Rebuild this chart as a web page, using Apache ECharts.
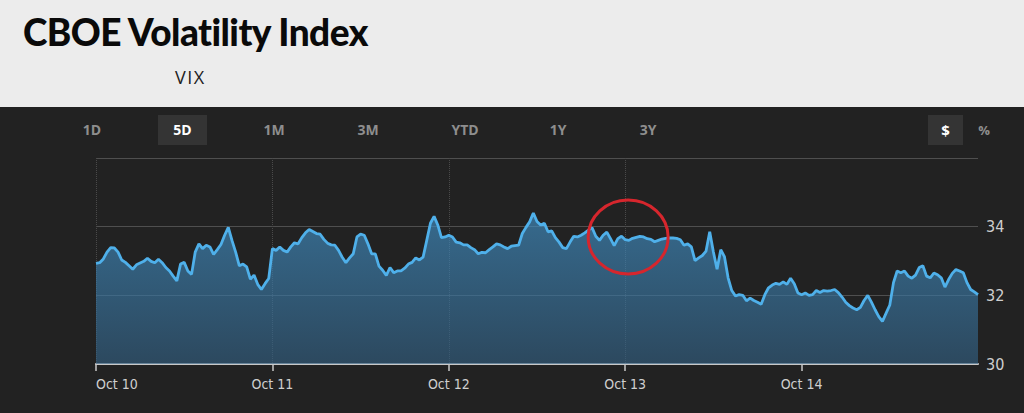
<!DOCTYPE html>
<html>
<head>
<meta charset="utf-8">
<script src="https://cdn.jsdelivr.net/npm/echarts@6/dist/echarts.min.js"></script>
<style>
  html, body { margin:0; padding:0; }
  body { width:1024px; height:413px; background:#222222; overflow:hidden; position:relative; font-family:"Open Sans", sans-serif; }
  #hdr { position:absolute; left:0; top:0; width:1024px; height:107px; background:#ececec; }
  #title { position:absolute; left:23px; top:9px; font-family:Lato, sans-serif; font-weight:900; font-size:37px; letter-spacing:-0.55px; color:#0a0a0a; white-space:nowrap; }
  #sub { position:absolute; left:175px; top:65px; font-family:"Open Sans", sans-serif; font-size:18px; letter-spacing:1.5px; color:#222; }
  .tab { position:absolute; top:115px; height:30px; line-height:30px; text-align:center; font-family:"Open Sans", sans-serif; font-weight:700; font-size:14px; color:#8e8e8e; }
  .tab.on { background:#343434; color:#ffffff; }
  #chart { position:absolute; left:0; top:107px; width:1024px; height:306px; }
</style>
</head>
<body>
<div id="hdr">
  <div id="title">CBOE Volatility Index</div>
  <div id="sub">VIX</div>
</div>
<div class="tab" style="left:72px;width:40px;">1D</div>
<div class="tab on" style="left:158px;width:49px;">5D</div>
<div class="tab" style="left:254px;width:40px;">1M</div>
<div class="tab" style="left:348px;width:40px;">3M</div>
<div class="tab" style="left:445px;width:40px;">YTD</div>
<div class="tab" style="left:538px;width:40px;">1Y</div>
<div class="tab" style="left:628px;width:40px;">3Y</div>
<div class="tab on" style="left:928px;width:35px;font-size:15px;">$</div>
<div class="tab" style="left:972px;width:24px;font-size:13px;">%</div>
<div id="chart"></div>
<script>
// ---- data, one value every 30 minutes ----
const dayLabels = ['Oct 10', 'Oct 11', 'Oct 12', 'Oct 13', 'Oct 14'];
const yTickValues = [30, 32, 34];
const stepHours = 0.5;

const oct10 = [32.93,32.95,33.06,33.26,33.39,33.38,33.26,33.03,32.96,32.86,
               32.76,32.89,32.94,32.99,33.08,32.99,32.95,33.05,32.95,32.81,
               32.71,32.56,32.42,32.91,32.96,32.71,32.61,33.26,33.50,33.36,
               33.46,33.41,33.19,33.33,33.48,33.75,33.98,33.60,33.26,32.86,
               32.91,32.83,32.47,32.59,32.32,32.17,32.34,32.49];
const oct11 = [33.36,33.31,33.41,33.31,33.26,33.41,33.53,33.50,33.68,33.82,
               33.92,33.86,33.80,33.78,33.63,33.52,33.47,33.46,33.31,33.11,
               32.95,33.09,33.21,33.70,33.78,33.75,33.50,33.21,33.21,32.85,
               32.73,32.58,32.81,32.66,32.71,32.71,32.79,32.91,32.96,33.09,
               33.03,33.11,33.60,34.10,34.30,34.05,33.68,33.70];
const oct12 = [33.75,33.70,33.55,33.53,33.47,33.47,33.39,33.33,33.21,33.25,
               33.24,33.33,33.41,33.50,33.47,33.41,33.36,33.43,33.45,33.46,
               33.80,33.98,34.14,34.40,34.15,34.05,34.10,33.85,33.88,33.68,
               33.55,33.39,33.36,33.55,33.72,33.70,33.75,33.82,33.90,33.97,
               33.72,33.60,33.75,33.84,33.65,33.45,33.65,33.72];
const oct13 = [33.62,33.60,33.66,33.69,33.72,33.70,33.65,33.63,33.56,33.60,
               33.64,33.66,33.67,33.67,33.66,33.62,33.46,33.50,33.41,33.01,
               33.09,33.16,33.29,33.85,33.26,32.76,33.33,33.13,32.51,32.14,
               31.98,32.02,32.00,31.84,31.92,31.85,31.80,31.74,32.02,32.22,
               32.30,32.35,32.32,32.39,32.32,32.50,32.34,32.07];
const oct14 = [32.02,32.07,32.00,32.02,32.14,32.08,32.14,32.12,32.14,32.17,
               32.08,31.95,31.80,31.70,31.63,31.58,31.65,31.85,32.00,31.80,
               31.58,31.38,31.24,31.48,31.72,32.37,32.71,32.66,32.71,32.56,
               32.50,32.59,32.81,32.86,32.56,32.51,32.65,32.60,32.51,32.24,
               32.46,32.64,32.75,32.71,32.66,32.37,32.17,32.10];
const lastValue = [32.02];

// annotation circle anchor (hours since Oct 10 00:00, VIX value)
const circleAnchor = [72.4, 33.70];

// ---- build ----
const values = [].concat(oct10, oct11, oct12, oct13, oct14, lastValue);
const seriesData = values.map((v, i) => [i * stepHours, v]);
const tickHours = dayLabels.map((d, i) => i * 24);

const chart = echarts.init(document.getElementById('chart'), null, { renderer: 'svg' });
chart.setOption({
  backgroundColor: 'transparent',
  animation: false,
  grid: { left: 96, right: 46, top: 51, bottom: 49 },
  xAxis: {
    type: 'value',
    min: 0, max: 120, interval: 24,
    axisLine: { show: true, onZero: false, lineStyle: { color: '#c8c8c8', width: 2 } },
    axisTick: { show: true, length: 7, customValues: tickHours, lineStyle: { color: '#c8c8c8', width: 1.5 } },
    axisLabel: {
      customValues: tickHours,
      color: '#cfcfcf', fontSize: 14, margin: 13,
      fontFamily: '"Liberation Sans Narrow", "DejaVu Sans Condensed", sans-serif',
      alignMinLabel: 'left',
      formatter: v => dayLabels[Math.round(v / 24)] || ''
    },
    splitLine: { show: true, showMaxLine: false, lineStyle: { color: '#4a4a4a', type: 'dotted', width: 1 } }
  },
  yAxis: {
    type: 'value', position: 'right',
    min: 30, max: 36, interval: 2,
    axisLine: { show: false }, axisTick: { show: false },
    axisLabel: {
      color: '#cfcfcf', fontSize: 16, margin: 8,
      fontFamily: '"Liberation Sans Narrow", "DejaVu Sans Condensed", sans-serif',
      formatter: v => yTickValues.indexOf(v) >= 0 ? String(v) : ''
    },
    splitLine: { show: true, lineStyle: { color: '#4f4f4f', width: 1 } }
  },
  series: [{
    type: 'line',
    data: seriesData,
    showSymbol: false,
    smooth: false,
    lineStyle: { color: '#4fb0ea', width: 2.8 },
    areaStyle: {
      color: new echarts.graphic.LinearGradient(0, 0, 0, 1, [
        { offset: 0, color: 'rgba(66,148,204,0.9)' },
        { offset: 1, color: 'rgba(50,94,128,0.92)' }
      ])
    }
  }]
});

const c = chart.convertToPixel({ gridIndex: 0 }, circleAnchor);
chart.setOption({
  graphic: [{
    type: 'ellipse',
    shape: { cx: c[0], cy: c[1], rx: 40, ry: 37 },
    style: { fill: 'none', stroke: '#d6262d', lineWidth: 3 },
    z: 100
  }]
});
</script>
</body>
</html>
